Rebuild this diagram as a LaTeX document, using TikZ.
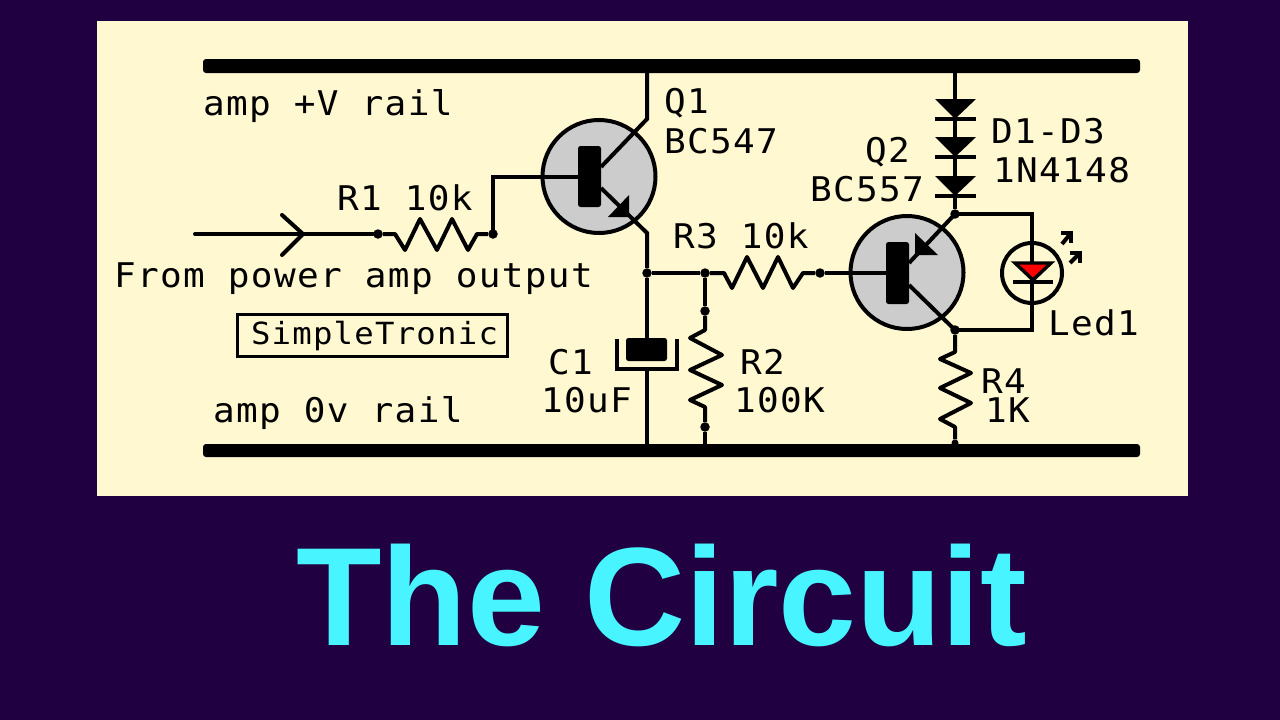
\documentclass[tikz,border=0pt]{standalone}
\usepackage{fontspec}
\setmainfont{Liberation Sans}
\newfontfamily\cadfont[FakeStretch=1.06,LetterSpace=4]{DejaVu Sans Mono}
\definecolor{bgpurple}{HTML}{200040}
\definecolor{panelcream}{HTML}{FFF8D0}
\definecolor{titlecyan}{HTML}{48F4FF}
\definecolor{bjtgrey}{HTML}{CCCCCC}
\definecolor{ledred}{HTML}{FF0000}
\tikzset{
  x=1pt,y=-1pt,
  wire/.style={draw=black,line width=4pt,line join=miter},
  dot/.style={circle,fill=black,inner sep=0pt,minimum size=9.5pt},
  label/.style={anchor=base west,inner sep=0pt,outer sep=0pt,font=\cadfont\fontsize{34}{34}\selectfont,text=black},
  smalllabel/.style={label,font=\cadfont\fontsize{30.5}{30.5}\selectfont},
  bjt/.style={circle,draw=black,fill=bjtgrey,line width=4pt,minimum size=113pt,inner sep=0pt},
  bar/.style={fill=black,rounded corners=2.5pt},
  rail/.style={fill=black,rounded corners=3pt},
}
\begin{document}
\begin{tikzpicture}
\useasboundingbox (0,0) rectangle (1280,720);
\fill[bgpurple] (0,0) rectangle (1280,720);
\fill[panelcream] (97,21) rectangle (1188,496);
% rails
\fill[rail] (203,59) rectangle (1140,73);
\fill[rail] (203,444) rectangle (1140,457);
% transistors
\node[bjt] (Q1) at (599,176.5) {};
\node[bjt] (Q2) at (907,272.5) {};
% junctions and terminals
\coordinate (top1) at (647,73);
\coordinate (top2) at (955,73);
\coordinate (bot1) at (647,444);
\coordinate (bot2) at (705,444);
\coordinate (bot3) at (955,444);
\coordinate (in) at (195,234);
\coordinate (q1c) at (647,119);
\coordinate (q1e) at (647,233);
\coordinate (ledtop) at (1032,214);
\coordinate (ledbot) at (1032,330);
\node[dot] (nR1a) at (378,234) {};
\node[dot] (nR1b) at (493,234) {};
\node[dot] (nE) at (647,273) {};
\node[dot] (nR2t) at (705,273) {};
\node[dot] (nR2a) at (705,311) {};
\node[dot] (nR2b) at (705,427) {};
\node[dot] (nR3b) at (820,273) {};
\node[dot] (nD) at (955,214) {};
\node[dot] (nC) at (955,330) {};
\node[dot,minimum size=7pt] (nB) at (955,443) {};
% input
\draw[wire,line cap=round] (in) -- (nR1a);
\draw[wire,line cap=round,line join=round] (282,215) -- (303,234) -- (282,255);
% R1
\draw[wire,line join=round] (nR1a) -- (395,234) -- (405,250) -- (420,219) -- (437,250) -- (452,219) -- (468,250) -- (477,234) -- (nR1b);
% Q1
\draw[wire] (nR1b.center) -- (493,177) -- (578,177);
\draw[wire] (top1) -- (q1c) -- (601,167);
\draw[wire] (601,188) -- (q1e) -- (nE);
\fill[bar] (578,146) rectangle (601,207);
\fill (629,195) -- (629,217) -- (608,217) -- cycle;
% R3
\draw[wire] (nE) -- (nR2t);
\draw[wire,line join=round] (nR2t) -- (724,273) -- (732,288) -- (747,257) -- (763,288) -- (778,257) -- (793,288) -- (803,273) -- (nR3b);
% Q2
\draw[wire] (nR3b) -- (886,273);
\draw[wire] (909,263) -- (nD.center);
\draw[wire] (909,285) -- (nC.center);
\fill[bar] (886,242) rectangle (909,304);
\fill (915,233) -- (938,255) -- (915,255) -- cycle;
% R2
\draw[wire] (nR2t) -- (nR2a);
\draw[wire,line join=round] (nR2a) -- (705,330) -- (690,338) -- (722,355) -- (690,370) -- (722,385) -- (690,400) -- (705,407) -- (nR2b);
\draw[wire] (nR2b) -- (bot2);
% C1
\draw[wire] (nE) -- (647,340);
\fill[bar] (626,338) rectangle (667,361);
\draw[wire] (617,339) -- (617,369) -- (677,369) -- (677,339);
\draw[wire] (647,369) -- (bot1);
% diodes
\draw[wire] (top2) -- (nD);
\foreach \t/\b in {99/119,137/157,176/196}{
  \fill (935,\t) -- (976,\t) -- (955,\b) -- cycle;
  \draw[wire] (935,\b) -- (976,\b);
}
% LED
\draw[wire] (nD.center) -- (ledtop) -- (ledbot) -- (nC.center);
\draw[wire] (1032,273) circle (30);
\draw[draw=black,fill=ledred,line width=3.4pt,line join=miter] (1015,263) -- (1051,263) -- (1033,280) -- cycle;
\draw[wire] (1013,282) -- (1053,282);
\draw[wire] (1062,244) -- (1071,233);
\draw[wire] (1061,233) -- (1071,233) -- (1071,243);
\draw[wire] (1070,263) -- (1080,253);
\draw[wire] (1070,253) -- (1080,253) -- (1080,263);
% R4
\draw[wire,line join=round] (nC) -- (955,352) -- (940,359) -- (971,373) -- (940,388) -- (971,403) -- (940,419) -- (955,427) -- (nB);
% labels
\node[label] (tV) at (203,115) {amp +V rail};
\node[label] (t0) at (213,422) {amp 0v rail};
\node[label] (tQ1) at (664,113) {Q1};
\node[label] (tBC547) at (664,153) {BC547};
\node[label] (tR1) at (337,210) {R1 10k};
\node[label] (tFrom) at (114,287) {From power amp output};
\node[draw=black,line width=2.8pt,minimum width=270pt,minimum height=42pt,inner sep=0pt] (boxST) at (372.5,335.5) {};
\node[smalllabel] (tST) at (251,344) {SimpleTronic};
\node[label] (tR3) at (673,248) {R3 10k};
\node[label] (tQ2) at (865,162) {Q2};
\node[label] (tBC557) at (810,201) {BC557};
\node[label] (tD) at (991,143) {D1-D3};
\node[label] (tN) at (993,182) {1N4148};
\node[label] (tLed) at (1048,335) {Led1};
\node[label] (tR4) at (981,393) {R4};
\node[label] (t1K) at (985,422) {1K};
\node[label] (tC1) at (548,374) {C1};
\node[label] (t10u) at (541,412) {10uF};
\node[label] (tR2) at (740,374) {R2};
\node[label] (t100K) at (734,412) {100K};
\node[anchor=base,inner sep=0pt,text=titlecyan,font=\fontsize{140}{140}\selectfont\bfseries] (title) at (662,645) {The Circuit};
\end{tikzpicture}
\end{document}
